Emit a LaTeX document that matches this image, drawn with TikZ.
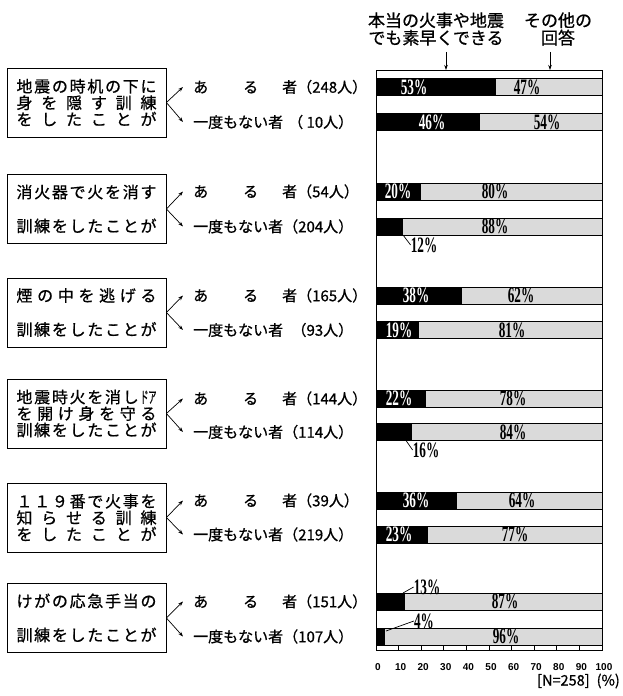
\documentclass[tikz,border=0pt]{standalone}
\usepackage{fontspec}
\usepackage{graphicx}
\setmainfont{Noto Sans CJK JP}[FakeBold=0.8]
\newfontfamily\pctfont[FakeStretch=0.6]{Liberation Serif}
\newfontfamily\axfont{Liberation Sans}
\usetikzlibrary{arrows.meta}
\definecolor{barg}{HTML}{DADADA}
\newcommand\gp{\hfil}
\newcommand\jl[1]{\makebox[140pt][s]{#1}}
\newcommand\labA[1]{\makebox[160pt][s]{あ\hspace{35pt}る\hspace{24pt}者\hfil #1}}
\newcommand\labB[1]{\makebox[160pt][s]{一度もない者\hfil #1}}
\newcommand\pctbar[2]{%
  \fill[barg] (376,#1-8.5) rectangle (602,#1+8.5);
  \fill[black] (376,#1-8.5) rectangle ({376+2.26*#2},#1+8.5);
  \draw[line width=0.8pt] (376,#1-8.5) rectangle (602,#1+8.5);
}
\tikzset{
  box/.style={draw, line width=0.8pt, minimum width=159pt, minimum height=69pt, inner sep=0pt, align=center},
  twoline/.style={font=\fontsize{16}{34}\selectfont},
  threeline/.style={font=\fontsize{16}{16.5}\selectfont},
  lab/.style={anchor=west, inner sep=0pt, font=\fontsize{15}{15}\selectfont},
  pct/.style={inner sep=0pt, font=\pctfont\bfseries\fontsize{22}{22}\selectfont},
  pctw/.style={pct, text=white},
  brarr/.style={line width=0.7pt, -{Stealth[length=5pt,width=3.5pt]}},
  hdrarr/.style={line width=0.7pt, -{Stealth[length=5pt,width=3.5pt]}},
  hdr/.style={inner sep=0pt, align=center, font=\fontsize{17}{17.5}\selectfont},
  axl/.style={inner sep=0pt, font=\axfont\bfseries\fontsize{10}{10}\selectfont},
  leader/.style={line width=0.7pt}
}
\begin{document}
\begin{tikzpicture}[x=1pt,y=-1pt]
\useasboundingbox (0,0) rectangle (622,696);
\fill[white] (0,0) rectangle (622,696);

% header
\node[hdr] (h1) at (436,29) {本当の火事や地震\\でも素早くできる};
\node[hdr] (h2) at (558,29) {その他の\\回答};

% bars
\pctbar{87}{53}
\pctbar{122}{46}
\pctbar{191.5}{20}
\pctbar{226.5}{12}
\pctbar{295.5}{38}
\pctbar{330}{19}
\pctbar{398.5}{22}
\pctbar{432}{16}
\pctbar{500.5}{36}
\pctbar{534.5}{23}
\pctbar{601.5}{13}
\pctbar{636.5}{4}

% frame and axis
\draw[line width=0.8pt] (376,650) -- (376,70) -- (602,70) -- (602,650) -- cycle;
\coordinate (f1) at (446,70);
\coordinate (f2) at (550,70);
\draw[hdrarr] ([yshift=-6pt]h1.south -| f1) -- (f1);
\draw[hdrarr] ([yshift=-6pt]h2.south -| f2) -- (f2);
\foreach \i in {0,...,10}{
  \pgfmathtruncatemacro\v{10*\i}
  \draw[line width=0.7pt] (376+22.6*\i,650) -- (376+22.6*\i,646);
  \node[axl] (t\i) at (378+22.6*\i,667) {\v};
}
\node[inner sep=0pt, anchor=east, font=\fontsize{14.5}{14.5}\selectfont] (nn) at (620,681) {[N=258]\hspace{7pt}(\%)};

% percentage labels
\node[pctw] (p1a) at (414,87) {53\%};
\node[pct]  (q1a) at (527,87) {47\%};
\node[pctw] (p1b) at (432,122) {46\%};
\node[pct]  (q1b) at (547,122) {54\%};
\node[pctw] (p2a) at (398,191.5) {20\%};
\node[pct]  (q2a) at (495,191.5) {80\%};
\node[pct]  (q2b) at (495,226.5) {88\%};
\node[pct]  (p2b) at (424,245) {12\%};
\coordinate (c2b) at (403,235);
\draw[leader] (c2b) -- (p2b.west);
\node[pctw] (p3a) at (416,295.5) {38\%};
\node[pct]  (q3a) at (521,295.5) {62\%};
\node[pctw] (p3b) at (399,330) {19\%};
\node[pct]  (q3b) at (512,330) {81\%};
\node[pctw] (p4a) at (399,398.5) {22\%};
\node[pct]  (q4a) at (513,398.5) {78\%};
\node[pct]  (q4b) at (513,432) {84\%};
\node[pct]  (p4b) at (426,450) {16\%};
\coordinate (c4b) at (406,440.5);
\draw[leader] (c4b) -- (p4b.west);
\node[pctw] (p5a) at (416,500.5) {36\%};
\node[pct]  (q5a) at (522,500.5) {64\%};
\node[pctw] (p5b) at (399,534.5) {23\%};
\node[pct]  (q5b) at (515,534.5) {77\%};
\node[pct]  (q6a) at (505,601.5) {87\%};
\node[pct]  (p6a) at (427,587) {13\%};
\coordinate (c6a) at (403,593);
\draw[leader] (c6a) -- (p6a.west);
\node[pct]  (q6b) at (506,636.5) {96\%};
\node[pct]  (p6b) at (424,621) {4\%};
\coordinate (c6b) at (386,631);
\draw[leader] (c6b) -- (p6b.west);

% boxes
\node[box, threeline] (b1) at (86.5,102.5) {\jl{地\gp 震\gp の\gp 時\gp 机\gp の\gp 下\gp に}\\\jl{身\gp を\gp 隠\gp す\gp 訓\gp 練}\\\jl{を\gp し\gp た\gp こ\gp と\gp が}};
\node[box, twoline] (b2) at (86.5,209) {\jl{消\gp 火\gp 器\gp で\gp 火\gp を\gp 消\gp す}\\\jl{訓\gp 練\gp を\gp し\gp た\gp こ\gp と\gp が}};
\node[box, twoline] (b3) at (86.5,312.5) {\jl{煙\gp の\gp 中\gp を\gp 逃\gp げ\gp る}\\\jl{訓\gp 練\gp を\gp し\gp た\gp こ\gp と\gp が}};
\node[box, threeline] (b4) at (86.5,413.5) {\jl{地\gp 震\gp 時\gp 火\gp を\gp 消\gp し\gp \scalebox{0.5}[1]{ドア}}\\\jl{を\gp 開\gp け\gp 身\gp を\gp 守\gp る}\\\jl{訓\gp 練\gp を\gp し\gp た\gp こ\gp と\gp が}};
\node[box, threeline] (b5) at (86.5,517.5) {\jl{１\gp １\gp ９\gp 番\gp で\gp 火\gp 事\gp を}\\\jl{知\gp ら\gp せ\gp る\gp 訓\gp 練}\\\jl{を\gp し\gp た\gp こ\gp と\gp が}};
\node[box, twoline] (b6) at (86.5,618) {\jl{け\gp が\gp の\gp 応\gp 急\gp 手\gp 当\gp の}\\\jl{訓\gp 練\gp を\gp し\gp た\gp こ\gp と\gp が}};

% group labels
\node[lab] (l1a) at (193,87) {\labA{（248人）}};
\node[lab] (l1b) at (193,122) {\labB{（ 10人）}};
\node[lab] (l2a) at (193,191.5) {\labA{（54人）}};
\node[lab] (l2b) at (193,226.5) {\labB{（204人）}};
\node[lab] (l3a) at (193,295.5) {\labA{（165人）}};
\node[lab] (l3b) at (193,330) {\labB{（93人）}};
\node[lab] (l4a) at (193,398.5) {\labA{（144人）}};
\node[lab] (l4b) at (193,432) {\labB{（114人）}};
\node[lab] (l5a) at (193,500.5) {\labA{（39人）}};
\node[lab] (l5b) at (193,534.5) {\labB{（219人）}};
\node[lab] (l6a) at (193,601.5) {\labA{（151人）}};
\node[lab] (l6b) at (193,636.5) {\labB{（107人）}};

% branch arrows
\foreach \g in {1,...,6}{
  \draw[brarr] (b\g.east) -- ([xshift=-10pt]l\g a.west);
  \draw[brarr] (b\g.east) -- ([xshift=-10pt]l\g b.west);
}
\end{tikzpicture}
\end{document}
